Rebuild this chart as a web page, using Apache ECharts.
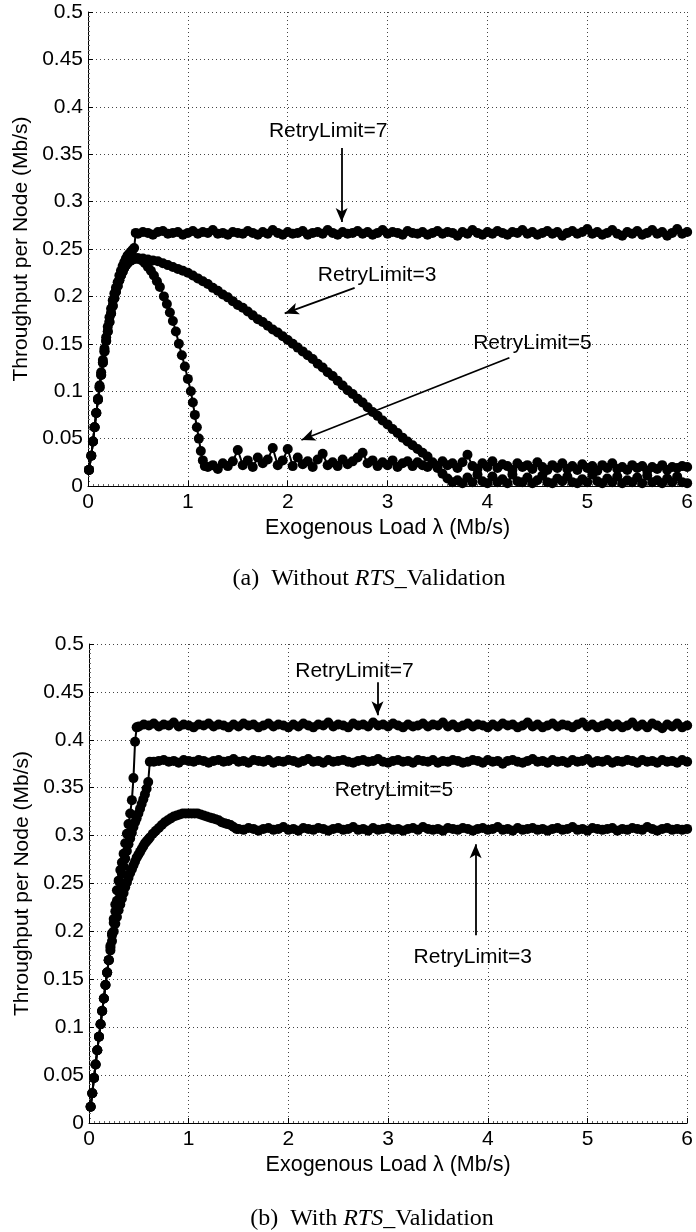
<!DOCTYPE html>
<html><head><meta charset="utf-8">
<script src="https://cdn.jsdelivr.net/npm/echarts@6/dist/echarts.min.js"></script>
<style>html,body{margin:0;padding:0;background:#fff}#c{width:696px;height:1232px}</style>
</head><body><div id="c"></div><script>
// ---------- data ----------
const xTicks = [0,1,2,3,4,5,6];
const xTitle = 'Exogenous Load \u03bb (Mb/s)';
const yTitle = 'Throughput per Node (Mb/s)';
const xGrid = [0.5,0.55,0.6,0.65,0.7,0.75,0.8,0.85,0.9,0.95,1,1.05,1.1,1.15,1.2,1.25,1.3,1.35,1.4,1.45,1.5,1.55,1.6,1.65,1.7,1.75,1.8,1.85,1.9,1.95,2,2.05,2.1,2.15,2.2,2.25,2.3,2.35,2.4,2.45,2.5,2.55,2.6,2.65,2.7,2.75,2.8,2.85,2.9,2.95,3,3.05,3.1,3.15,3.2,3.25,3.3,3.35,3.4,3.45,3.5,3.55,3.6,3.65,3.7,3.75,3.8,3.85,3.9,3.95,4,4.05,4.1,4.15,4.2,4.25,4.3,4.35,4.4,4.45,4.5,4.55,4.6,4.65,4.7,4.75,4.8,4.85,4.9,4.95,5,5.05,5.1,5.15,5.2,5.25,5.3,5.35,5.4,5.45,5.5,5.55,5.6,5.65,5.7,5.75,5.8,5.85,5.9,5.95,6];

// (a) without RTS_Validation
const topRise = [[0.01,0.017],[0.033,0.032],[0.05,0.047],[0.066,0.062],[0.083,0.077],[0.1,0.091],[0.116,0.104],[0.132,0.117],[0.149,0.13],[0.165,0.142],[0.182,0.153],[0.198,0.163],[0.215,0.173],[0.231,0.182],[0.248,0.19],[0.264,0.198],[0.28,0.205],[0.297,0.211],[0.314,0.217],[0.33,0.222],[0.347,0.226],[0.363,0.23],[0.38,0.233],[0.396,0.235],[0.413,0.237],[0.43,0.238],[0.446,0.239],[0.462,0.24],[0.478,0.24],[0.495,0.24]];
const top7Rise = [[0.01,0.017],[0.033,0.032],[0.05,0.047],[0.066,0.062],[0.083,0.077],[0.1,0.092],[0.116,0.106],[0.132,0.12],[0.149,0.133],[0.165,0.145],[0.182,0.157],[0.198,0.168],[0.215,0.178],[0.231,0.187],[0.248,0.196],[0.264,0.203],[0.28,0.209],[0.297,0.215],[0.314,0.222],[0.33,0.227],[0.347,0.232],[0.363,0.236],[0.38,0.24],[0.396,0.243],[0.413,0.245],[0.43,0.247],[0.446,0.249],[0.462,0.251],[0.478,0.267]];
const top7Tail = [0.266,0.268,0.267,0.265,0.268,0.269,0.266,0.267,0.268,0.265,0.267,0.269,0.266,0.268,0.267,0.270,0.266,0.267,0.265,0.268,0.267,0.266,0.269,0.267,0.265,0.268,0.266,0.270,0.267,0.265,0.268,0.266,0.267,0.269,0.265,0.267,0.268,0.266,0.270,0.267,0.265,0.268,0.266,0.267,0.269,0.266,0.268,0.265,0.267,0.270,0.266,0.268,0.267,0.265,0.269,0.267,0.266,0.268,0.265,0.267,0.269,0.266,0.268,0.267,0.264,0.268,0.266,0.270,0.267,0.265,0.268,0.266,0.269,0.267,0.265,0.268,0.267,0.270,0.266,0.268,0.265,0.267,0.269,0.266,0.268,0.264,0.267,0.269,0.266,0.268,0.271,0.266,0.268,0.265,0.267,0.270,0.266,0.264,0.268,0.266,0.269,0.265,0.267,0.270,0.266,0.268,0.264,0.267,0.271,0.266,0.268];
const top5Fall = [[0.51,0.24],[0.54,0.238],[0.57,0.235],[0.6,0.231],[0.63,0.227],[0.66,0.222],[0.69,0.216],[0.72,0.21],[0.76,0.2],[0.79,0.192],[0.82,0.183],[0.85,0.174],[0.88,0.163],[0.91,0.15],[0.94,0.138],[0.97,0.126],[1.0,0.113],[1.03,0.1],[1.05,0.088],[1.07,0.075],[1.09,0.062],[1.11,0.05],[1.13,0.037],[1.15,0.027],[1.17,0.021]];
const top5Tail = [0.020,0.022,0.018,0.024,0.021,0.026,0.038,0.022,0.027,0.020,0.030,0.024,0.028,0.040,0.022,0.027,0.039,0.021,0.030,0.023,0.026,0.020,0.028,0.034,0.022,0.025,0.021,0.028,0.023,0.026,0.030,0.035,0.024,0.027,0.021,0.025,0.022,0.027,0.020,0.024,0.026,0.021,0.025,0.022,0.020,0.024,0.021,0.026,0.022,0.024,0.019,0.025,0.033,0.021,0.018,0.024,0.020,0.026,0.019,0.023,0.021,0.017,0.024,0.020,0.022,0.018,0.025,0.020,0.017,0.022,0.019,0.024,0.018,0.021,0.017,0.023,0.019,0.021,0.016,0.022,0.019,0.024,0.018,0.020,0.017,0.022,0.019,0.021,0.016,0.020,0.018,0.022,0.017,0.020,0.019,0.021,0.020];
const top3Tail = [0.240,0.240,0.239,0.238,0.237,0.235,0.233,0.231,0.229,0.227,0.225,0.222,0.219,0.216,0.213,0.209,0.206,0.202,0.199,0.195,0.191,0.188,0.184,0.180,0.176,0.173,0.169,0.165,0.162,0.158,0.154,0.150,0.146,0.142,0.138,0.134,0.129,0.125,0.120,0.116,0.111,0.106,0.101,0.097,0.092,0.088,0.083,0.078,0.074,0.069,0.065,0.060,0.056,0.051,0.047,0.043,0.039,0.035,0.031,0.025,0.019,0.013,0.008,0.004,0.006,0.003,0.009,0.004,0.012,0.005,0.003,0.010,0.004,0.007,0.003,0.012,0.005,0.004,0.009,0.003,0.006,0.011,0.004,0.003,0.008,0.005,0.010,0.004,0.003,0.007,0.004,0.012,0.005,0.003,0.008,0.004,0.010,0.003,0.006,0.004,0.009,0.003,0.011,0.004,0.006,0.003,0.008,0.004,0.010,0.004,0.003];

// (b) with RTS_Validation
const botRise = [[0.0165,0.017],[0.033,0.031],[0.05,0.047],[0.066,0.061],[0.083,0.076],[0.1,0.09],[0.116,0.103],[0.132,0.117],[0.149,0.13],[0.165,0.144],[0.182,0.157],[0.198,0.17]];
const bot7Rise = [[0.215,0.185],[0.231,0.198],[0.248,0.213],[0.264,0.228],[0.28,0.243],[0.297,0.253],[0.314,0.264],[0.33,0.272],[0.347,0.281],[0.363,0.292],[0.38,0.302],[0.396,0.312],[0.413,0.323],[0.43,0.337],[0.446,0.36],[0.462,0.398],[0.478,0.413]];
const bot5Rise = [[0.215,0.183],[0.231,0.196],[0.248,0.209],[0.264,0.221],[0.28,0.232],[0.297,0.242],[0.314,0.251],[0.33,0.26],[0.347,0.268],[0.363,0.276],[0.38,0.284],[0.396,0.291],[0.413,0.297],[0.43,0.303],[0.446,0.309],[0.462,0.314],[0.478,0.318],[0.495,0.323],[0.512,0.328],[0.528,0.333],[0.545,0.338],[0.561,0.343],[0.578,0.349],[0.594,0.356],[0.61,0.377]];
const bot3Rise = [[0.215,0.18],[0.231,0.19],[0.248,0.2],[0.264,0.208],[0.28,0.215],[0.297,0.222],[0.314,0.228],[0.33,0.234],[0.347,0.24],[0.363,0.246],[0.38,0.251],[0.396,0.256],[0.413,0.261],[0.43,0.265],[0.446,0.269],[0.462,0.273],[0.478,0.277],[0.495,0.28],[0.512,0.283],[0.528,0.286],[0.545,0.289],[0.561,0.292],[0.578,0.294],[0.594,0.296],[0.61,0.298],[0.64,0.302],[0.67,0.305],[0.7,0.308],[0.73,0.311],[0.76,0.314],[0.79,0.316],[0.82,0.318],[0.85,0.32],[0.88,0.321],[0.91,0.322],[0.94,0.323],[0.97,0.323],[1.0,0.323],[1.03,0.323],[1.06,0.323],[1.09,0.323],[1.12,0.322],[1.15,0.321],[1.18,0.32],[1.21,0.319],[1.24,0.318],[1.27,0.317],[1.3,0.316],[1.33,0.314],[1.36,0.313],[1.39,0.312],[1.42,0.311],[1.45,0.309],[1.48,0.307]];
const bot7Tail = [0.414,0.416,0.415,0.417,0.414,0.416,0.415,0.418,0.414,0.416,0.415,0.413,0.416,0.415,0.417,0.414,0.416,0.415,0.413,0.416,0.414,0.417,0.415,0.416,0.413,0.415,0.417,0.414,0.416,0.415,0.413,0.416,0.414,0.417,0.415,0.413,0.416,0.415,0.418,0.414,0.416,0.415,0.413,0.417,0.415,0.416,0.414,0.418,0.415,0.416,0.414,0.417,0.415,0.413,0.416,0.414,0.415,0.417,0.414,0.416,0.415,0.418,0.414,0.416,0.413,0.415,0.417,0.414,0.416,0.415,0.413,0.416,0.414,0.417,0.415,0.416,0.413,0.415,0.418,0.414,0.416,0.413,0.415,0.417,0.414,0.416,0.415,0.413,0.416,0.418,0.414,0.416,0.413,0.415,0.417,0.414,0.416,0.413,0.415,0.418,0.414,0.416,0.413,0.417,0.415,0.412,0.416,0.414,0.417,0.413,0.415];
const bot5Tail = [0.377,0.378,0.379,0.377,0.378,0.376,0.379,0.378,0.377,0.379,0.378,0.376,0.378,0.379,0.377,0.378,0.380,0.377,0.378,0.376,0.379,0.378,0.377,0.379,0.376,0.378,0.377,0.379,0.378,0.376,0.378,0.380,0.377,0.378,0.376,0.379,0.377,0.378,0.379,0.377,0.376,0.378,0.379,0.377,0.378,0.380,0.377,0.376,0.378,0.379,0.377,0.378,0.376,0.379,0.378,0.377,0.379,0.376,0.378,0.377,0.379,0.378,0.376,0.377,0.379,0.378,0.376,0.379,0.377,0.378,0.375,0.378,0.379,0.377,0.376,0.378,0.380,0.377,0.378,0.376,0.379,0.377,0.378,0.376,0.379,0.377,0.378,0.380,0.376,0.378,0.377,0.379,0.376,0.378,0.377,0.379,0.378,0.376,0.379,0.377,0.378,0.376,0.379,0.377,0.378,0.376,0.379,0.377];
const bot3Tail = [0.307,0.306,0.308,0.307,0.305,0.307,0.308,0.306,0.307,0.309,0.306,0.307,0.305,0.308,0.307,0.306,0.308,0.307,0.305,0.307,0.308,0.306,0.307,0.309,0.306,0.307,0.305,0.308,0.306,0.307,0.308,0.306,0.307,0.305,0.307,0.308,0.306,0.309,0.307,0.306,0.307,0.305,0.308,0.307,0.306,0.308,0.307,0.305,0.307,0.308,0.306,0.307,0.309,0.306,0.307,0.305,0.308,0.306,0.307,0.308,0.306,0.307,0.305,0.307,0.308,0.306,0.307,0.309,0.306,0.307,0.305,0.308,0.307,0.306,0.307,0.308,0.305,0.307,0.306,0.308,0.307,0.306,0.309,0.307,0.305,0.307,0.308,0.306,0.307,0.306,0.307];

// annotations: [label, x, y]  and arrows: [x1,y1,x2,y2]
const topLabels = [['RetryLimit=7',2.405,0.3745],['RetryLimit=3',2.895,0.2226],['RetryLimit=5',4.45,0.1508]];
const topArrows = [[2.54,0.3565,2.54,0.2785],[2.67,0.209,1.97,0.182],[4.22,0.1353,2.137,0.0485]];
const botLabels = [['RetryLimit=7',2.663,0.4715],['RetryLimit=5',3.06,0.3473],['RetryLimit=3',3.85,0.173]];
const botArrows = [[2.894,0.46,2.894,0.4256],[3.878,0.196,3.878,0.291]];
const captionA = ['(a)  Without ','RTS','_Validation'];
const captionB = ['(b)  With ','RTS','_Validation'];

// ---------- build ----------
const F = 'Liberation Sans, Arial, Helvetica, sans-serif';
const SERIF = 'Liberation Serif, Times New Roman, serif';
const FS = 21;
function join(pairs, tail){
  const s = xGrid.length - tail.length;
  return pairs.concat(tail.map((y,i)=>[xGrid[s+i], y]));
}
function xAx(gi){
  return {type:'value', gridIndex:gi, min:xTicks[0], max:xTicks[xTicks.length-1], interval:1,
    name:xTitle, nameLocation:'middle', nameGap:31,
    nameTextStyle:{fontFamily:F, fontSize:FS+0.5, color:'#000'},
    axisLine:{onZero:false, lineStyle:{color:'#000', width:1}},
    axisTick:{inside:true, length:5, lineStyle:{color:'#000'}},
    minorTick:{show:true, splitNumber:20, length:2, lineStyle:{color:'#666'}},
    axisLabel:{fontFamily:F, fontSize:FS, color:'#000', margin:6},
    splitLine:{show:true, lineStyle:{color:'#444', type:[1,3], width:1}}};
}
function yAx(gi){
  return {type:'value', gridIndex:gi, min:0, max:0.5, interval:0.05,
    name:yTitle, nameLocation:'middle', nameGap:53,
    nameTextStyle:{fontFamily:F, fontSize:FS, color:'#000'},
    axisLine:{show:true, onZero:false, lineStyle:{color:'#000', width:1}},
    axisTick:{show:true, inside:true, length:5, lineStyle:{color:'#000'}},
    minorTick:{show:true, splitNumber:10, length:2, lineStyle:{color:'#666'}},
    axisLabel:{fontFamily:F, fontSize:FS, color:'#000', margin:5,
      formatter:v=>String(Math.round(v*100)/100)},
    splitLine:{show:true, lineStyle:{color:'#444', type:[1,3], width:1}}};
}
function curve(gi, data){
  return {type:'line', xAxisIndex:gi, yAxisIndex:gi, data, symbol:'circle', symbolSize:10,
    showSymbol:true, showAllSymbol:true, lineStyle:{color:'#000', width:2},
    itemStyle:{color:'#000'}, silent:true, animation:false, clip:false, z:3};
}
function notes(gi, labels, arrows){
  return {type:'scatter', xAxisIndex:gi, yAxisIndex:gi, silent:true, animation:false, z:5,
    symbolSize:0, itemStyle:{color:'#000', opacity:1}, data:labels.map(l=>[l[1],l[2],l[0]]),
    label:{show:true, position:'inside', formatter:p=>p.data[2], fontFamily:F, fontSize:FS,
      color:'#000', opacity:1, textBorderWidth:0, textBorderColor:'transparent'},
    markLine:{silent:true, animation:false, symbol:['none','arrow'], symbolSize:[9,14],
      lineStyle:{color:'#000', width:1.8, type:'solid', opacity:1}, label:{show:false},
      data:arrows.map(a=>[{coord:[a[0],a[1]]},{coord:[a[2],a[3]]}])}};
}
function caption(parts, x, y){
  return {type:'text', x, y, silent:true, style:{
    text:'{n|'+parts[0]+'}{i|'+parts[1]+'}{n|'+parts[2]+'}',
    rich:{n:{fontFamily:SERIF, fontSize:24, fill:'#000'}, i:{fontFamily:SERIF, fontSize:24, fontStyle:'italic', fill:'#000'}},
    align:'center', verticalAlign:'middle'}};
}
const chart = echarts.init(document.getElementById('c'), null, {renderer:'canvas'});
chart.setOption({
  animation:false, backgroundColor:'#fff',
  grid:[{left:88, top:12, width:600, height:474}, {left:89, top:644, width:606, height:479}],
  xAxis:[xAx(0), xAx(1)], yAxis:[yAx(0), yAx(1)],
  series:[
    curve(0, join(topRise, top3Tail)),
    curve(0, join(topRise.concat(top5Fall), top5Tail)),
    curve(0, join(top7Rise, top7Tail)),
    notes(0, topLabels, topArrows),
    curve(1, join(botRise.concat(bot3Rise), bot3Tail)),
    curve(1, join(botRise.concat(bot5Rise), bot5Tail)),
    curve(1, join(botRise.concat(bot7Rise), bot7Tail)),
    notes(1, botLabels, botArrows)
  ],
  graphic:[caption(captionA, 369, 579), caption(captionB, 372, 1219)]
});
</script></body></html>
